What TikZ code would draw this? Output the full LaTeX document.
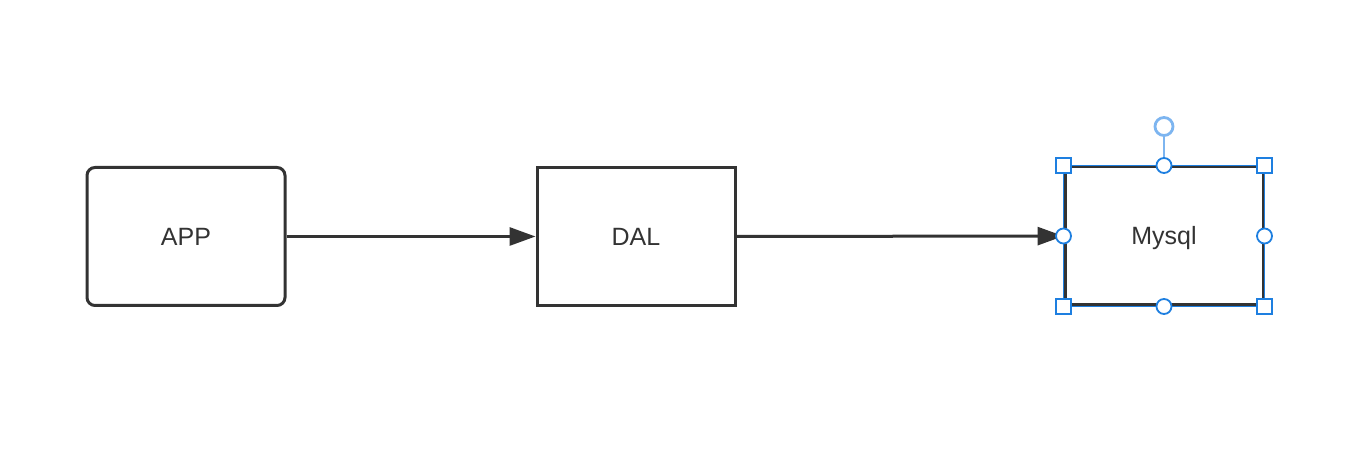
\documentclass[tikz,border=0pt]{standalone}
\usepackage{fontspec}
\setmainfont{Liberation Sans}
\usetikzlibrary{arrows.meta,calc}
\definecolor{ink}{HTML}{333333}
\definecolor{sel}{HTML}{1E7FE0}
\definecolor{rot}{HTML}{7DB5F0}
\tikzset{
  box/.style={draw=ink,line width=1.5pt,minimum width=99pt,minimum height=69pt,
    text=ink,font=\fontsize{12.5}{15}\selectfont,inner sep=0pt,
    text height=9pt,text depth=0pt},
  link/.style={draw=ink,line width=1.5pt,-{Triangle[length=13pt,width=9pt]}},
  sqhandle/.style={draw=sel,fill=white,line width=0.9pt,minimum size=7.5pt,inner sep=0pt},
  rdhandle/.style={draw=sel,fill=white,line width=0.9pt,circle,minimum size=7.5pt,inner sep=0pt}
}
\begin{document}
\begin{tikzpicture}[x=0.5pt,y=-0.5pt]
      \useasboundingbox[fill=white](0,0) rectangle (1366,474);
      % the three layers
      \node[box,rounded corners=4pt](app) at (186,236.5) {APP};
      \node[box](dal) at (636,236.5) {DAL};
      \node[box](mysql) at (1164,236) {Mysql};
      \draw[link](app)--(dal);
      \draw[link](dal)--(mysql);
      % selection frame
      \draw[sel,line width=0.4pt](mysql.south west) rectangle (mysql.north east);
      \coordinate(top) at (mysql.north);
      \coordinate(knob) at ($(top)+(0,-39)$);
      \draw[rot,line width=1.2pt](top)--(knob);
      \node[draw=rot,fill=white,circle,line width=1.4pt,minimum size=9pt,inner sep=0pt](rotknob) at (knob) {};
      \foreach \a in {north west,north east,south west,south east}
        \node[sqhandle] at (mysql.\a) {};
      \foreach \a in {north,south,east,west}
        \node[rdhandle] at (mysql.\a) {};
\end{tikzpicture}
\end{document}
